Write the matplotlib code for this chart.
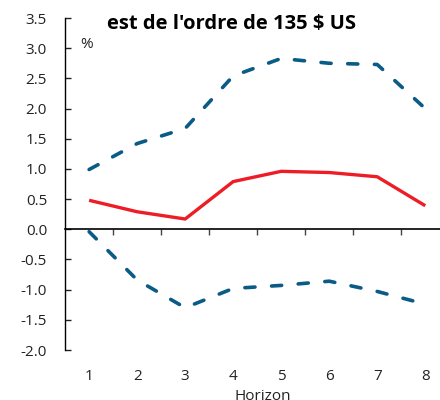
import matplotlib
matplotlib.use("Agg")
import matplotlib.pyplot as plt
import matplotlib.transforms as mtransforms

plt.rcParams["font.family"] = ["Open Sans", "DejaVu Sans"]

horizons = [1, 2, 3, 4, 5, 6, 7, 8]
central = [0.48, 0.29, 0.17, 0.79, 0.96, 0.94, 0.87, 0.39]
upper = [0.99, 1.42, 1.67, 2.54, 2.83, 2.75, 2.73, 2.0]
lower = [-0.04, -0.84, -1.30, -0.98, -0.93, -0.86, -1.03, -1.24]
y_ticks = [3.5, 3.0, 2.5, 2.0, 1.5, 1.0, 0.5, 0.0, -0.5, -1.0, -1.5, -2.0]

blue = "#0a5b85"
red = "#ee1c25"
ink = "#222222"

fig = plt.figure(figsize=(4.4, 4.0), dpi=100)
ax = fig.add_axes([0.148, 0.125, 0.873, 0.83])

ax.plot(horizons, upper, color=blue, lw=2.6, linestyle=(0, (2.8, 4.6)),
        dash_capstyle="round")
ax.plot(horizons, lower, color=blue, lw=2.6, linestyle=(0, (2.8, 4.6)),
        dash_capstyle="round")
ax.plot(horizons, central, color=red, lw=2.4, solid_capstyle="butt")

ax.set_xlim(0.5, 8.5)
ax.set_ylim(-2.0, 3.5)

for side in ("top", "right"):
    ax.spines[side].set_visible(False)
ax.spines["bottom"].set_position(("data", 0))
ax.spines["bottom"].set_linewidth(1.2)
ax.spines["left"].set_linewidth(1.0)

ax.set_yticks(y_ticks)
ax.set_yticklabels([f"{v:.1f}" for v in y_ticks])
ax.tick_params(axis="y", direction="in", length=4, width=1, pad=13,
               labelsize=11, colors=ink)

# boundaries between horizons carry the ticks on the zero line
ax.set_xticks([h + 0.5 for h in horizons[:-1]])
ax.set_xticklabels([])
ax.tick_params(axis="x", direction="out", length=4, width=1, color="#444444")

label_trans = mtransforms.blended_transform_factory(ax.transData, ax.transAxes)
for h in horizons:
    ax.text(h, -0.081, str(h), transform=label_trans, ha="center", va="center",
            fontsize=11, color=ink)
ax.text(4.62, -0.14, "Horizon", transform=label_trans, ha="center", va="center",
        fontsize=11, color=ink)

ax.text(0.056, 0.92, "%", transform=ax.transAxes, ha="center", va="center",
        fontsize=11, color=ink)

fig.text(0.525, 0.94, "est de l'ordre de 135 $ US", ha="center", va="center",
         fontsize=14.5, fontweight="bold", color="black")

fig.savefig("out.png", dpi=100)
